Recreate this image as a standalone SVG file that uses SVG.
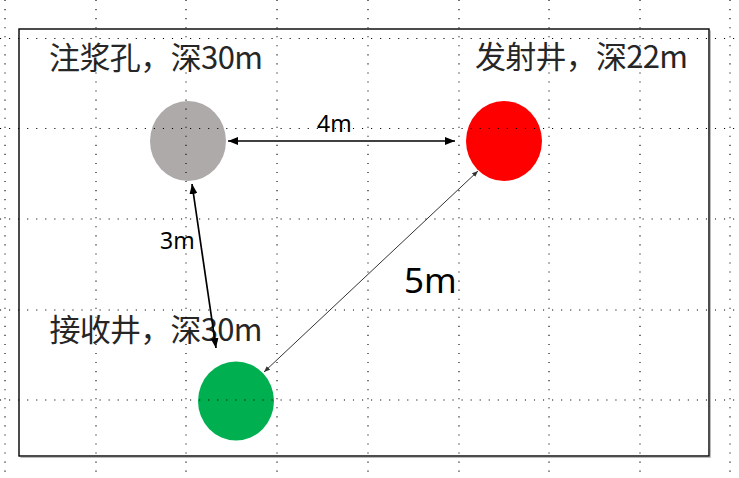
<svg xmlns="http://www.w3.org/2000/svg" width="739" height="478" viewBox="0 0 739 478">
<style>
.lbl{font-family:"Noto Sans CJK SC","Noto Sans",sans-serif;font-size:31px;fill:#262626}
.dim{font-family:"Noto Sans","Liberation Sans",sans-serif;fill:#000}
.grid line{stroke:#000;stroke-width:1.1;stroke-dasharray:1.1 7.95}
</style>
<defs>
<marker id="ah" viewBox="0 0 10 8" refX="10" refY="4" markerWidth="10" markerHeight="8" markerUnits="userSpaceOnUse" orient="auto-start-reverse">
<path d="M0,0 L10,4 L0,8 z" fill="#000"/>
</marker>
<marker id="ahs" viewBox="0 0 10 8" refX="10" refY="4" markerWidth="6" markerHeight="5" markerUnits="userSpaceOnUse" orient="auto-start-reverse">
<path d="M0,0 L10,4 L0,8 z" fill="#333"/>
</marker>
</defs>
<rect width="739" height="478" fill="#fff"/>
<g id="frame">
<path d="M710.5,30.5 V457.5 H20.5" fill="none" stroke="#bbb" stroke-width="1"/>
<rect x="19" y="29" width="690" height="427" fill="none" stroke="#000" stroke-width="1.4"/>
</g>
<g id="node-injection">
<ellipse cx="188" cy="141" rx="38" ry="40" fill="#aeaaaa"/>
<text class="lbl" x="49" y="69" textLength="214">注浆孔，深30m</text>
</g>
<g id="node-transmit">
<ellipse cx="504" cy="141" rx="38" ry="40" fill="#ff0000"/>
<text class="lbl" x="475" y="68" textLength="213">发射井，深22m</text>
</g>
<g id="node-receive">
<ellipse cx="236" cy="401" rx="38" ry="39.5" fill="#00b050"/>
<text class="lbl" x="49.5" y="341" textLength="213">接收井，深30m</text>
</g>
<g id="connectors">
<line x1="228" y1="141" x2="455" y2="141" stroke="#000" stroke-width="1.7" marker-start="url(#ah)" marker-end="url(#ah)"/>
<text class="dim" x="317" y="132" font-size="23">4m</text>
<line x1="192" y1="184" x2="216" y2="348" stroke="#000" stroke-width="1.7" marker-start="url(#ah)" marker-end="url(#ah)"/>
<text class="dim" x="160" y="249" font-size="23">3m</text>
<line x1="478" y1="171" x2="264" y2="372" stroke="#333" stroke-width="1" marker-start="url(#ahs)" marker-end="url(#ahs)"/>
<text class="dim" x="404" y="293" font-size="35">5m</text>
</g>
<g class="grid">
<line x1="5" y1="0" x2="5" y2="478"/>
<line x1="96" y1="0" x2="96" y2="478"/>
<line x1="186" y1="0" x2="186" y2="478"/>
<line x1="277" y1="0" x2="277" y2="478"/>
<line x1="368" y1="0" x2="368" y2="478"/>
<line x1="459" y1="0" x2="459" y2="478"/>
<line x1="549" y1="0" x2="549" y2="478"/>
<line x1="640" y1="0" x2="640" y2="478"/>
<line x1="730" y1="0" x2="730" y2="478"/>
<line x1="0" y1="38.5" x2="739" y2="38.5"/>
<line x1="0" y1="128.5" x2="739" y2="128.5"/>
<line x1="0" y1="219" x2="739" y2="219"/>
<line x1="0" y1="310" x2="739" y2="310"/>
<line x1="0" y1="400" x2="739" y2="400"/>
</g>
</svg>
